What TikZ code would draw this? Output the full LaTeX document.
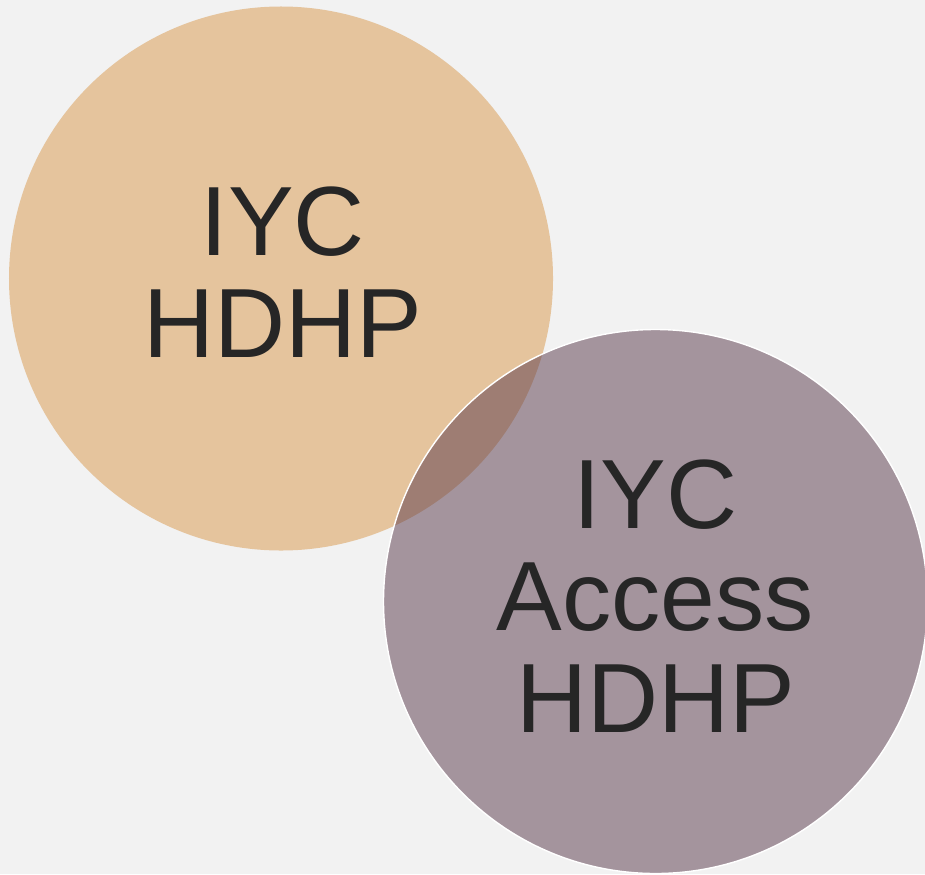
\documentclass[tikz,border=0pt]{standalone}
\usepackage{fontspec}
\setmainfont{Liberation Sans}
\usepackage{xcolor}
\definecolor{bgGray}{HTML}{F2F2F2}
\definecolor{sand}{HTML}{E5C49D}
\definecolor{plum}{RGB}{88,56,74}
\definecolor{textDark}{HTML}{262626}

\begin{document}
\begin{tikzpicture}[
        label text/.style={align=center, inner sep=0pt, text=textDark,
            font=\fontsize{28}{29}\selectfont}
    ]
            \useasboundingbox (0,0) rectangle (9.25,8.74);
            \clip (0,0) rectangle (9.25,8.74);
            \fill[bgGray] (0,0) rectangle (9.25,8.74);

            % first plan
            \fill[sand] (2.81, 5.955) circle[radius=2.72];
            \node[label text] (hdhp) at (2.83, 6.02) {IYC\\HDHP};

            % second plan, laid over the first
            \draw[white, line width=0.4pt, fill=plum, fill opacity=0.5]
                (6.555, 2.725) circle[radius=2.72];
            \node[label text] (access) at (6.555, 2.775) {IYC\\Access\\HDHP};
        \end{tikzpicture}
\end{document}
